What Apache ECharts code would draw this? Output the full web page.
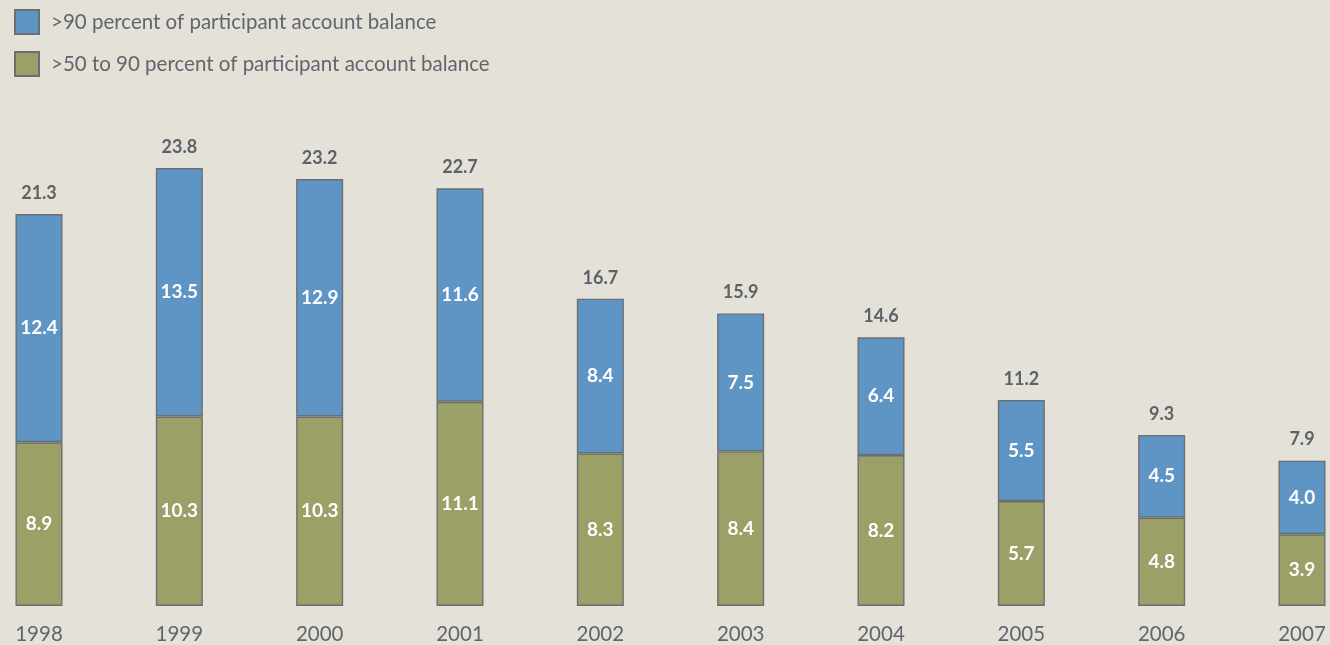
<!DOCTYPE html>
<html><head><meta charset="utf-8">
<script src="https://cdn.jsdelivr.net/npm/echarts@6/dist/echarts.min.js"></script>
<style>html,body{margin:0;padding:0;background:#e4e1d9;}#c{width:1330px;height:645px;}</style>
</head><body><div id="c"></div>
<script>
const years = ['1998','1999','2000','2001','2002','2003','2004','2005','2006','2007'];
const over90 = [12.4, 13.5, 12.9, 11.6, 8.4, 7.5, 6.4, 5.5, 4.5, 4.0];
const from50to90 = [8.9, 10.3, 10.3, 11.1, 8.3, 8.4, 8.2, 5.7, 4.8, 3.9];
const totals = [21.3, 23.8, 23.2, 22.7, 16.7, 15.9, 14.6, 11.2, 9.3, 7.9];
const seriesNames = ['>90 percent of participant account balance', '>50 to 90 percent of participant account balance'];

const FONT = 'Lato';
const chart = echarts.init(document.getElementById('c'));
const inLabel = {show: true, position: 'inside', color: '#ffffff', fontFamily: FONT, fontWeight: 'bold', fontSize: 19,
  formatter: p => p.value.toFixed(1)};
chart.setOption({
  backgroundColor: '#e4e1d9',
  animation: false,
  legend: {
    orient: 'vertical', left: 14, top: 9, padding: 0, itemWidth: 24, itemHeight: 24, itemGap: 16, icon: 'rect',
    data: [seriesNames[0], seriesNames[1]],
    textStyle: {color: '#62656c', fontFamily: FONT, fontSize: 20.5, padding: [0,0,0,7]}
  },
  grid: {left: 39, right: 28, bottom: 37, top: 146},
  xAxis: {
    type: 'category', data: years, boundaryGap: false,
    axisLine: {show: false}, axisTick: {show: false},
    axisLabel: {color: '#62656c', fontFamily: FONT, fontSize: 20.5, margin: 18}
  },
  yAxis: {type: 'value', min: 0, max: 25, show: false, splitLine: {show: false}},
  series: [
    {name: seriesNames[1], type: 'bar', stack: 's', data: from50to90, barWidth: 47,
     itemStyle: {color: '#9aa066', borderColor: '#6b6e72', borderWidth: 1.4}, label: inLabel},
    {name: seriesNames[0], type: 'bar', stack: 's', data: over90, barWidth: 47,
     itemStyle: {color: '#5f95c4', borderColor: '#6b6e72', borderWidth: 1.4}, label: inLabel},
    {name: 'total', type: 'bar', stack: 's', data: totals.map(() => 0), barWidth: 47,
     itemStyle: {color: 'rgba(0,0,0,0)', borderWidth: 0},
     label: {show: true, position: 'top', distance: 12, color: '#5e6168', fontFamily: FONT, fontWeight: 'bold', fontSize: 18,
       formatter: p => totals[p.dataIndex].toFixed(1)}}
  ]
});
</script></body></html>
